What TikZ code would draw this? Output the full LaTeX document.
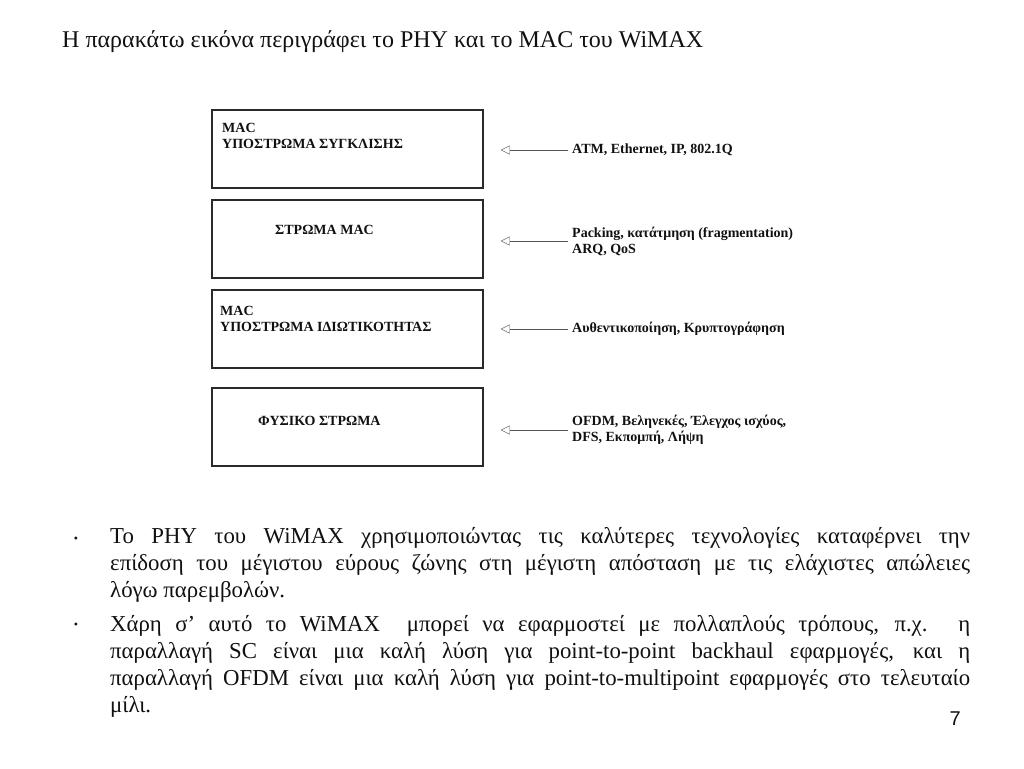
\documentclass[tikz,border=0pt]{standalone}
\usepackage{fontspec}
\setmainfont{Liberation Serif}
\newfontfamily\pagefont{Liberation Sans}
\usetikzlibrary{positioning,arrows.meta}
\definecolor{BoxLine}{HTML}{2A2A2A}
\definecolor{ArrowGray}{HTML}{555555}
\definecolor{TextDark}{HTML}{111111}
\hyphenpenalty=10000
\exhyphenpenalty=10000

\begin{document}
\begin{tikzpicture}[x=1pt,y=-1pt,
    every node/.style={text=TextDark},
    layer/.style={draw=BoxLine,line width=1.4pt,minimum width=271pt,
                  minimum height=78pt,inner sep=0pt},
    lab/.style={font=\fontsize{14}{16}\selectfont\bfseries,align=left,
                inner sep=0pt,anchor=west},
    ar/.style={-{Triangle[open,length=9pt,width=9pt]},ArrowGray,thin,
               shorten >=17pt,shorten <=4pt},
    para/.style={font=\fontsize{22.8}{27}\selectfont,text width=860pt,
                 align=justify,inner sep=0pt,anchor=north west}]
  \useasboundingbox[fill=white] (0,0) rectangle (1024,768);

  % title
  \node[anchor=base west,inner sep=0pt,font=\fontsize{24}{28}\selectfont]
    (title) at (62,48) {Η παρακάτω εικόνα περιγράφει το PHY και το MAC του WiMAX};

  % layers
  \node[layer] (b1) at (347.5,149) {};
  \node[layer] (b2) at (347.5,239) {};
  \node[layer] (b3) at (347.5,329) {};
  \node[layer] (b4) at (347.5,427) {};
  \node[lab] (n1) at (222,136) {MAC\\ΥΠΟΣΤΡΩΜΑ ΣΥΓΚΛΙΣΗΣ};
  \node[lab] (n2) at (275,230) {ΣΤΡΩΜΑ ΜΑC};
  \node[lab] (n3) at (220,319) {MAC\\ΥΠΟΣΤΡΩΜΑ ΙΔΙΩΤΙΚΟΤΗΤΑΣ};
  \node[lab] (n4) at (258,421) {ΦΥΣΙΚΟ ΣΤΡΩΜΑ};

  % inputs
  \node[lab] (t1) at (572,150) {ATM, Ethernet, IP, 802.1Q};
  \node[lab] (t2) at (572,241) {Packing, κατάτμηση (fragmentation)\\ARQ, QoS};
  \node[lab] (t3) at (572,329) {Αυθεντικοποίηση, Κρυπτογράφηση};
  \node[lab] (t4) at (572,430) {OFDM, Βεληνεκές, Έλεγχος ισχύος,\\DFS, Εκπομπή, Λήψη};
  \draw[ar] (t1.west) -- (t1.west -| b1.east);
  \draw[ar] (t2.west) -- (t2.west -| b2.east);
  \draw[ar] (t3.west) -- (t3.west -| b3.east);
  \draw[ar] (t4.west) -- (t4.west -| b4.east);

  % bullets
  \node[font=\fontsize{12}{12}\selectfont] (d1) at (76,540) {\textbullet};
  \node[font=\fontsize{12}{12}\selectfont] (d2) at (76,626) {\textbullet};
  \node[para] (p1) at (110,527)
    {Το PHY του WiMAX χρησιμοποιώντας τις καλύτερες τεχνολογίες καταφέρνει την\linebreak
     επίδοση του μέγιστου εύρους ζώνης στη μέγιστη απόσταση με τις ελάχιστες απώλειες\linebreak
     λόγω παρεμβολών.};
  \node[para] (p2) at (110,615)
    {Χάρη σ’ αυτό το WiMAX\ \ μπορεί να εφαρμοστεί με πολλαπλούς τρόπους, π.χ. η\linebreak
     παραλλαγή SC είναι μια καλή λύση για point-to-point backhaul εφαρμογές, και η\linebreak
     παραλλαγή OFDM είναι μια καλή λύση για point-to-multipoint εφαρμογές στο τελευταίο\linebreak
     μίλι.};

  \node[anchor=base east,inner sep=0pt,font=\pagefont\fontsize{20}{24}\selectfont]
    (pg) at (961,725) {7};
\end{tikzpicture}
\end{document}
